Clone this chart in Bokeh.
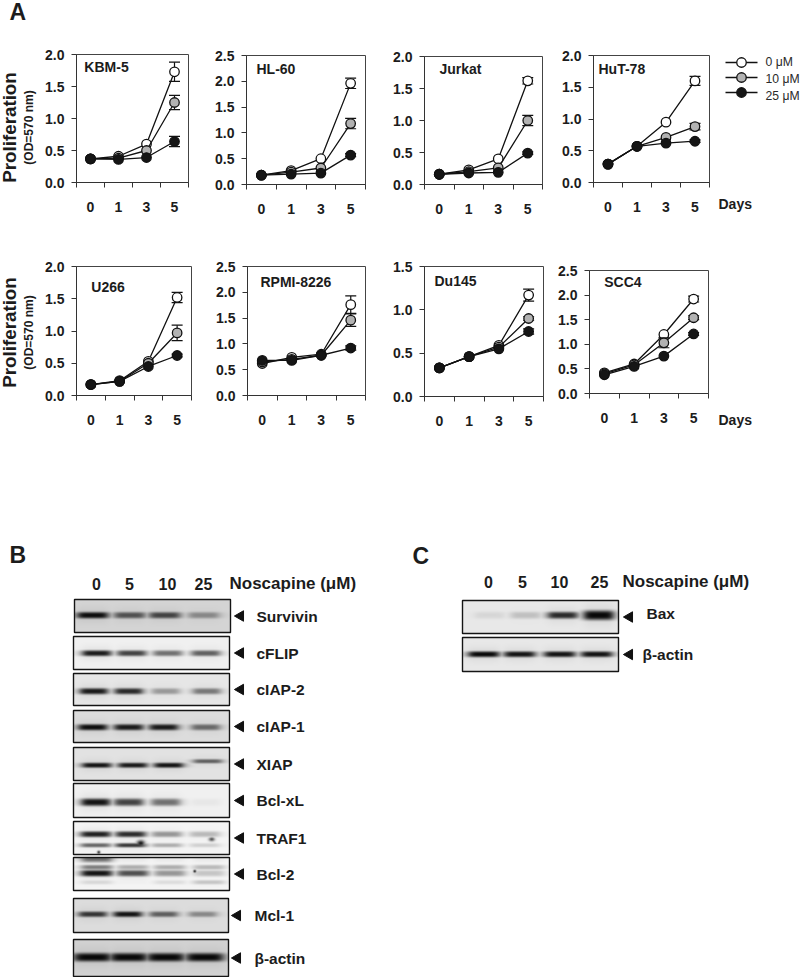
import math
import numpy as np
from bokeh.embed import file_html
from bokeh.resources import INLINE
from bokeh.plotting import figure
from bokeh.layouts import column, row
from bokeh.models import (Range1d, FixedTicker, Label,
                          LinearColorMapper, NumeralTickFormatter)
from bokeh.palettes import gray
from bokeh.core.properties import value

FONT = "Liberation Sans"
INK = "#1c1c1c"
DAYS = ["0", "1", "3", "5"]
SLOTS = [0.5, 1.5, 2.5, 3.5]
DOSES = ["0 μM", "10 μM", "25 μM"]
FILLS = ["#ffffff", "#b2b2b2", "#151515"]

# ---- panel A data: (0, 10, 25 uM) per cell line, with error bars
kbm5 = [[.37, .41, .60, 1.73], [.37, .38, .50, 1.25], [.37, .36, .39, .64]]
kbm5_err = [[0, 0, 0, .15], [0, 0, 0, .11], [0, 0, 0, .08]]
hl60 = [[.18, .27, .50, 1.96], [.18, .24, .32, 1.18], [.18, .20, .22, .57]]
hl60_err = [[0, 0, 0, .10], [0, 0, 0, .10], [0, 0, 0, .03]]
jurkat = [[.16, .23, .40, 1.62], [.16, .20, .26, 1.00], [.16, .18, .19, .49]]
jurkat_err = [[0, 0, 0, .05], [0, 0, 0, .08], [0, 0, 0, .02]]
hut78 = [[.29, .57, .95, 1.60], [.29, .57, .71, .88], [.29, .57, .62, .65]]
hut78_err = [[0, 0, 0, .07], [0, 0, 0, .05], [0, 0, 0, .02]]
u266 = [[.17, .23, .53, 1.52], [.17, .22, .50, .97], [.17, .22, .45, .62]]
u266_err = [[0, 0, 0, .08], [0, 0, 0, .12], [0, 0, 0, .02]]
rpmi = [[.62, .74, .80, 1.76], [.65, .70, .78, 1.46], [.68, .68, .78, .92]]
rpmi_err = [[0, 0, 0, .17], [0, 0, 0, .12], [0, 0, 0, .04]]
du145 = [[.33, .46, .59, 1.17], [.33, .46, .57, .90], [.33, .46, .55, .75]]
du145_err = [[0, 0, 0, .07], [0, 0, 0, .02], [0, 0, 0, .03]]
scc4 = [[.42, .60, 1.20, 1.92], [.40, .58, 1.03, 1.54], [.38, .55, .76, 1.21]]
scc4_err = [[0, 0, 0, .06], [0, 0, .10, .04], [0, 0, 0, .03]]

# ---- blot band densities per lane (0, 5, 10, 25 uM)
survivin = [.98, .65, .72, .38]
cflip = [.92, .75, .55, .62]
ciap2 = [.92, .85, .35, .50]
ciap1 = [.98, .92, .92, .55]
xiap = [.95, .92, .95, .60]
bclxl = [.95, .75, .55, .04]
traf1_upper = [.90, .85, .40, .25]
traf1_lower = [.60, .80, .30, .15]
bcl2_top = [.60, .05, .05, .05]
bcl2_upper = [.50, .30, .30, .25]
bcl2_main = [.95, .70, .40, .20]
bcl2_lower = [.12, .02, .10, .20]
mcl1 = [.80, .95, .60, .40]
actin_b = [1, 1, 1, 1]
bax = [.08, .18, .85, 0]
bax_strong = [0, 0, 0, 1]
actin_c = [1, .95, .95, .95]


def label(p, x, y, text, size, angle=0, align="center", bold=True, color=INK):
    p.add_layout(Label(x=x, y=y, text=text, text_font=FONT, text_font_size=f"{size}px",
                       text_font_style="bold" if bold else "normal", text_color=color,
                       text_align=align, text_baseline="middle", angle=angle))


def panel(name, series, errs, ymax, box, fig_box, title_at):
    left, right, top, bottom = box
    fx0, fx1, fy0, fy1 = fig_box
    p = figure(width=fx1 - fx0, height=fy1 - fy0, x_range=Range1d(0, 4), y_range=Range1d(0, ymax),
               toolbar_location=None, output_backend="svg", frame_align=False,
               min_border_left=left - fx0, min_border_right=fx1 - right,
               min_border_top=top - fy0, min_border_bottom=fy1 - bottom)
    p.grid.visible = False
    p.outline_line_color = "#444444"
    p.outline_line_width = 1
    X = lambda px: (px - left) / (right - left) * 4
    Y = lambda py: (bottom - py) / (bottom - top) * ymax

    xa = p.xaxis[0]
    xa.ticker = FixedTicker(ticks=SLOTS, minor_ticks=[0, 1, 2, 3, 4])
    xa.major_label_overrides = {s: d for s, d in zip(SLOTS, DAYS)}
    xa.major_tick_in = 0
    xa.major_tick_out = 0
    xa.minor_tick_in = 0
    xa.minor_tick_out = 5
    xa.major_label_standoff = 14
    ya = p.yaxis[0]
    ya.ticker = FixedTicker(ticks=[v * .5 for v in range(int(ymax * 2) + 1)])
    ya.formatter = NumeralTickFormatter(format="0.0")
    ya.major_tick_in = 0
    ya.major_tick_out = 5
    ya.minor_tick_in = 0
    ya.minor_tick_out = 0
    ya.major_label_standoff = 7
    for a in (xa, ya):
        a.axis_line_color = "#333333"
        a.major_tick_line_color = "#333333"
        a.minor_tick_line_color = "#333333"
        a.major_label_text_font = FONT
        a.major_label_text_font_style = "bold"
        a.major_label_text_font_size = "14px"
        a.major_label_text_color = INK

    for vals, err, fill in zip(series, errs, FILLS):
        p.line(SLOTS, vals, line_color="#111111", line_width=1.3)
        keep = [i for i, e in enumerate(err) if e > 0]
        ex = [SLOTS[i] for i in keep]
        up = [vals[i] + err[i] for i in keep]
        lo = [vals[i] - err[i] for i in keep]
        p.segment(ex, lo, ex, up, line_color="#111111", line_width=1.2)
        p.scatter(ex, up, marker="dash", size=11, line_color="#111111", line_width=1.2)
        p.scatter(ex, lo, marker="dash", size=11, line_color="#111111", line_width=1.2)
        p.scatter(SLOTS, vals, size=9.5, fill_color=fill, line_color="#111111", line_width=1.3)

    label(p, X(title_at[0]), Y(title_at[1]), name, 14, align="left")
    return p


def margin_fig(x0, x1, y0, y1):
    p = figure(width=x1 - x0, height=y1 - y0, x_range=Range1d(x0, x1), y_range=Range1d(y1, y0),
               toolbar_location=None, output_backend="svg", min_border=0, frame_align=False)
    p.axis.visible = False
    p.grid.visible = False
    p.outline_line_color = None
    return p


def left_margin(y0, y1, cy, letter=None):
    p = margin_fig(0, 42, y0, y1)
    label(p, 9, cy, "Proliferation", 18.8, angle=math.pi / 2)
    label(p, 28, cy, "(OD=570 nm)", 12, angle=math.pi / 2)
    if letter:
        label(p, 9, 11, letter, 23, align="left")
    return p


def right_margin(y0, y1, days_y, legend=False):
    p = margin_fig(712, 800, y0, y1)
    label(p, 718, days_y, "Days", 14, align="left")
    if legend:
        for fill, dose, ky, ty in zip(FILLS, DOSES, [62, 77, 92], [61, 78, 95]):
            p.line([725, 757], [ky, ky], line_color="#111111", line_width=1.3)
            p.scatter([741], [ky], size=9.5, fill_color=fill, line_color="#111111", line_width=1.3)
            label(p, 765, ty, dose, 12.2, align="left", bold=False, color="#2a2a2a")
    return p


R1 = (0, 225)
R2 = (225, 530)
row1 = row(
    left_margin(*R1, 127, letter="A"),
    panel("KBM-5", kbm5, kbm5_err, 2.0, (74, 188, 54, 182), (42, 210, *R1), (82, 66)),
    panel("HL-60", hl60, hl60_err, 2.5, (246, 365, 55, 184), (210, 385, *R1), (256, 68)),
    panel("Jurkat", jurkat, jurkat_err, 2.0, (424, 542, 56, 184), (385, 555, *R1), (439, 68)),
    panel("HuT-78", hut78, hut78_err, 2.0, (593, 709, 55, 182), (555, 712, *R1), (598, 68)),
    right_margin(*R1, 203, legend=True),
)
row2 = row(
    left_margin(*R2, 332),
    panel("U266", u266, u266_err, 2.0, (75, 191, 266, 395), (42, 210, *R2), (90, 286)),
    panel("RPMI-8226", rpmi, rpmi_err, 2.5, (247, 365, 266, 395), (210, 385, *R2), (260, 281)),
    panel("Du145", du145, du145_err, 1.5, (424, 543, 266, 396), (385, 555, *R2), (434, 280)),
    panel("SCC4", scc4, scc4_err, 2.5, (587, 708, 270, 393), (555, 712, *R2), (602, 281)),
    right_margin(*R2, 419),
)

# ---- blots: y axis runs upward from the page bottom
H0, H1 = 530, 977
bl = figure(width=800, height=H1 - H0, x_range=Range1d(0, 800), y_range=Range1d(0, H1 - H0),
            toolbar_location=None, output_backend="svg", min_border=0, frame_align=False)
bl.axis.visible = False
bl.grid.visible = False
bl.outline_line_color = None
YB = lambda py: H1 - py
mapper = LinearColorMapper(palette=gray(256), low=0, high=255)


def blot(x0, x1, y0, y1, bg, lanes, bands, hw=14.5, text="", arrow_x=240, text_x=256, text_y=None, spots=()):
    """bands: list of (centre y, half thickness, per-lane density list); spots: (x, y, rx, ry, density)"""
    w, h = x1 - x0, y1 - y0
    xs = np.arange(w * 2) / 2 + x0 + .25
    ys = np.arange(h * 2) / 2 + y0 + .25
    ink = np.zeros((len(ys), len(xs)))
    for yc, sig, dens in bands:
        for lane, d in zip(lanes, dens):
            across = 1 / (1 + ((xs - lane) / hw) ** 6)
            down = np.exp(-np.abs((ys - yc) / (sig * 1.35)) ** 3)
            ink = np.maximum(ink, d * np.outer(down, across))
            halo = np.exp(-((ys - yc) / (sig * 3)) ** 2)
            ink = np.maximum(ink, .08 * d * np.outer(halo, across))
    for sx, sy, rx, ry, d in spots:
        ink = np.maximum(ink, d * np.outer(np.exp(-((ys - sy) / ry) ** 2), np.exp(-((xs - sx) / rx) ** 2)))
    pic = bg * (1 - ink) + 8 * ink
    bl.image(image=[pic[::-1]], x=x0, y=YB(y1), dw=w, dh=h, color_mapper=mapper)
    bl.quad(left=x0, right=x1, top=YB(y0), bottom=YB(y1), fill_alpha=0, line_color="#151515", line_width=1.4)
    cy = (y0 + y1) / 2
    bl.scatter([arrow_x], [YB(cy)], marker="triangle", angle=math.pi / 2, size=10.5, fill_color="#111111", line_color="#111111")
    bl.text([text_x], [YB(text_y if text_y else cy)], text=[text], text_font=value(FONT), text_font_style="bold",
            text_font_size="15.5px", text_color=INK, text_baseline="middle", text_align="left")


def header(xs, text_x, y):
    bl.text(xs, [YB(y)] * 4, text=["0", "5", "10", "25"], text_font=value(FONT), text_font_style="bold", text_font_size="16px",
            text_color=INK, text_align="center", text_baseline="middle")
    bl.text([text_x], [YB(y)], text=["Noscapine (μM)"], text_font=value(FONT), text_font_style="bold", text_font_size="17px",
            text_color=INK, text_align="left", text_baseline="middle")


def letter(x, y, t):
    bl.text([x], [YB(y)], text=[t], text_font=value(FONT), text_font_style="bold", text_font_size="23px",
            text_color=INK, text_align="left", text_baseline="middle")


letter(9, 554, "B")
letter(412, 555, "C")
header([96, 129, 167, 203], 229, 583)
header([488, 522, 559, 599], 622, 581)

blot(74, 230, 599, 632, 212, [92, 129, 164, 203], [(615, 2.4, survivin)], 15.5, "Survivin")
blot(73, 229, 636, 669, 240, [96, 131, 167, 205], [(653, 2.2, cflip)], 14.5, "cFLIP")
blot(73, 229, 673, 705, 230, [93, 128, 165, 206], [(691, 2.3, ciap2)], 14, "cIAP-2")
blot(73, 229, 710, 742, 220, [92, 128, 163, 205], [(727, 2.3, ciap1)], 14.5, "cIAP-1")
blot(73, 229, 747, 780, 226, [96, 132, 168, 207], [(765, 1.9, xiap[:3] + [0]), (761, 1.6, [0, 0, 0, xiap[3]])], 14.5, "XIAP")
blot(73, 229, 783, 817, 240, [95, 128, 165, 205], [(802, 2.8, bclxl)], 14.5, "Bcl-xL")
blot(73, 229, 821, 854, 244, [95, 130, 166, 204], [(834, 2.2, traf1_upper), (845, 1.6, traf1_lower)], 15, "TRAF1",
     spots=[(140, 843, 4, 3, .95), (211, 839, 3, 2, .7), (98, 852, 1.5, 1.5, .9)])
blot(73, 229, 857, 890, 244, [96, 132, 169, 208], [(858, 3, bcl2_top), (867, 1.8, bcl2_upper), (873, 2.4, bcl2_main), (882, 1.6, bcl2_lower)], 15.5, "Bcl-2",
     spots=[(194, 871, 1.4, 1.4, 1)])
blot(73, 228, 898, 932, 220, [92, 127, 163, 202], [(914, 2.1, mcl1)], 14, "Mcl-1", arrow_x=237, text_x=254)
blot(73, 228, 939, 976, 210, [92, 128, 165, 204], [(957, 3.2, actin_b)], 18.5, "β-actin", arrow_x=237, text_x=254)
blot(462, 618, 600, 633, 232, [489, 525, 562, 598], [(615, 2.6, bax), (615, 3.6, bax_strong)], 15, "Bax", arrow_x=629, text_x=646, text_y=613)
blot(462, 618, 637, 671, 232, [483, 519, 559, 596], [(654, 2.2, actin_c)], 15.5, "β-actin", arrow_x=629, text_x=642)

page = column(row1, row2, bl, spacing=0)
page.styles = {"position": "absolute", "left": "0px", "top": "0px"}
open("out.html", "w").write(file_html(page, INLINE))
